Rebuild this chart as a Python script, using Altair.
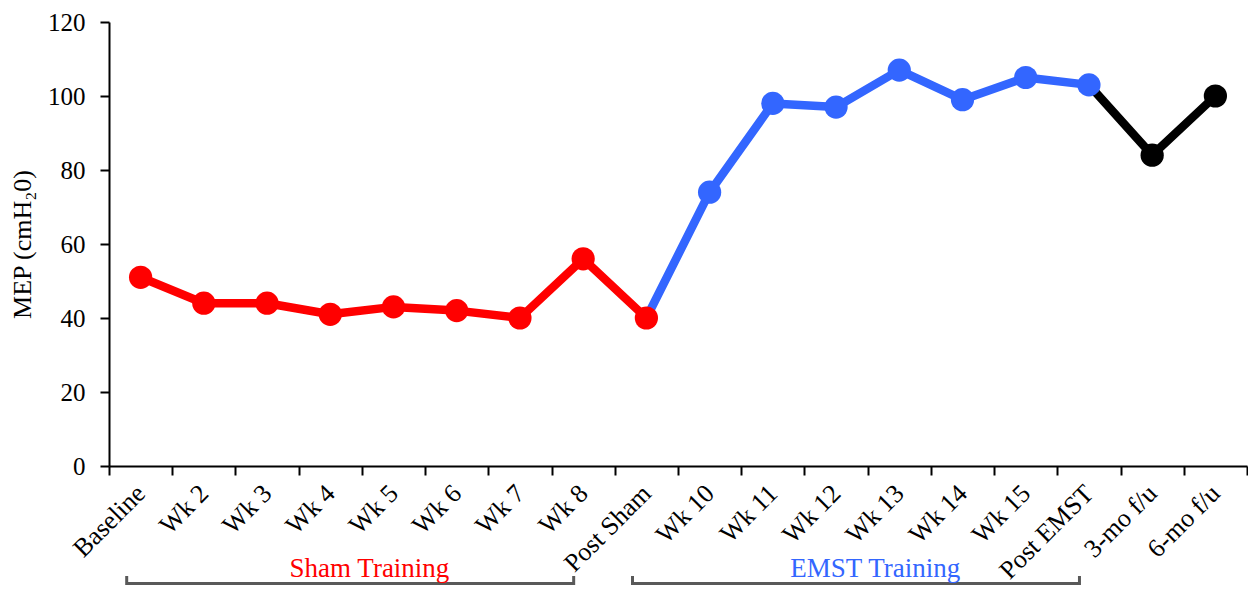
import altair as alt
import pandas as pd

# ---- data ----
labels = ["Baseline", "Wk 2", "Wk 3", "Wk 4", "Wk 5", "Wk 6", "Wk 7", "Wk 8", "Post Sham",
          "Wk 10", "Wk 11", "Wk 12", "Wk 13", "Wk 14", "Wk 15", "Post EMST", "3-mo f/u", "6-mo f/u"]
mep = [51, 44, 44, 41, 43, 42, 40, 56, 40, 74, 98, 97, 107, 99, 105, 103, 84, 100]

# line segments (first and last category of each coloured segment)
seg_names = ["Sham", "EMST", "Follow-up"]
seg_first = ["Baseline", "Post Sham", "Post EMST"]
seg_last = ["Post Sham", "Post EMST", "6-mo f/u"]
seg_colors = ["#FF0000", "#3366FF", "#000000"]

# colour of each point
point_colors = ["#FF0000"] * 9 + ["#3366FF"] * 7 + ["#000000"] * 2

# brackets under the axis
group_names = ["Sham Training", "EMST Training"]
group_first = ["Baseline", "Post Sham"]
group_last = ["Wk 8", "Post EMST"]
group_colors = ["#FF0000", "#3366FF"]

# ---- build tables ----
rows = []
for name, a, b, c in zip(seg_names, seg_first, seg_last, seg_colors):
    i0, i1 = labels.index(a), labels.index(b)
    for i in range(i0, i1 + 1):
        rows.append({"seg": name, "label": labels[i], "idx": i, "mep": mep[i], "color": c})
lines_df = pd.DataFrame(rows)

points_df = pd.DataFrame({"label": labels, "idx": list(range(len(labels))),
                          "mep": mep, "color": point_colors})

br_rows = []
for name, a, b, c in zip(group_names, group_first, group_last, group_colors):
    i0, i1 = labels.index(a), labels.index(b)
    br_rows.append({"group": name, "start": i0 - 0.22, "end": i1 - 0.15,
                    "mid": (i0 + i1) / 2 + 0.12, "color": c})
br_df = pd.DataFrame(br_rows)

FONT = "Liberation Serif"
W, H = 1138, 444

x_enc = alt.X("label:N", sort=labels,
              scale=alt.Scale(type="band", paddingInner=0, paddingOuter=0),
              axis=alt.Axis(title=None, labelAngle=-45, labelAlign="right",
                            labelBaseline="middle", tickBand="extent",
                            labelPadding=14, labelFontSize=26))
y_enc = alt.Y("mep:Q", scale=alt.Scale(domain=[0, 120], nice=False),
              axis=alt.Axis(values=[0, 20, 40, 60, 80, 100, 120], grid=False,
                            title="MEP (cmH\u20820)", labelPadding=15, titlePadding=12,
                            labelFontSize=25))

lines = alt.Chart(lines_df).mark_line(strokeWidth=8.5, strokeJoin="round").encode(
    x=x_enc, y=y_enc,
    color=alt.Color("color:N", scale=None),
    detail="seg:N",
    order="idx:Q",
)
points = alt.Chart(points_df).mark_circle(size=540, opacity=1).encode(
    x=x_enc, y=y_enc,
    color=alt.Color("color:N", scale=None),
)
main = alt.layer(lines, points)

bscale = alt.Scale(domain=[-0.5, len(labels) - 0.5], nice=False, zero=False)
br_h = alt.Chart(br_df).mark_rule(strokeWidth=3, color="#595959").encode(
    x=alt.X("start:Q", scale=bscale, axis=None), x2="end:Q", y=alt.value(561.5))
br_l = alt.Chart(br_df).mark_rule(strokeWidth=3, color="#595959").encode(
    x=alt.X("start:Q", scale=bscale, axis=None), y=alt.value(554), y2=alt.value(563))
br_r = alt.Chart(br_df).mark_rule(strokeWidth=3, color="#595959").encode(
    x=alt.X("end:Q", scale=bscale, axis=None), y=alt.value(554), y2=alt.value(563))
br_t = alt.Chart(br_df).mark_text(font=FONT, fontSize=27, baseline="alphabetic", align="center").encode(
    x=alt.X("mid:Q", scale=bscale, axis=None),
    y=alt.value(555),
    text="group:N",
    color=alt.Color("color:N", scale=None),
)
brackets = alt.layer(br_h, br_l, br_r, br_t)

chart = alt.layer(main, brackets).resolve_scale(x="independent").properties(
    width=W, height=H,
    padding={"left": 1, "top": 2, "right": 0, "bottom": 0},
).configure_view(stroke=None).configure_axis(
    labelFont=FONT, titleFont=FONT, labelFontSize=25, titleFontSize=26,
    titleFontWeight="normal", labelColor="black", titleColor="black",
    domainColor="black", domainWidth=2, tickColor="black", tickWidth=2, tickSize=9,
    labelOverlap=False,
)

chart.save("out.html", embed_options={"renderer": "svg", "actions": False})
